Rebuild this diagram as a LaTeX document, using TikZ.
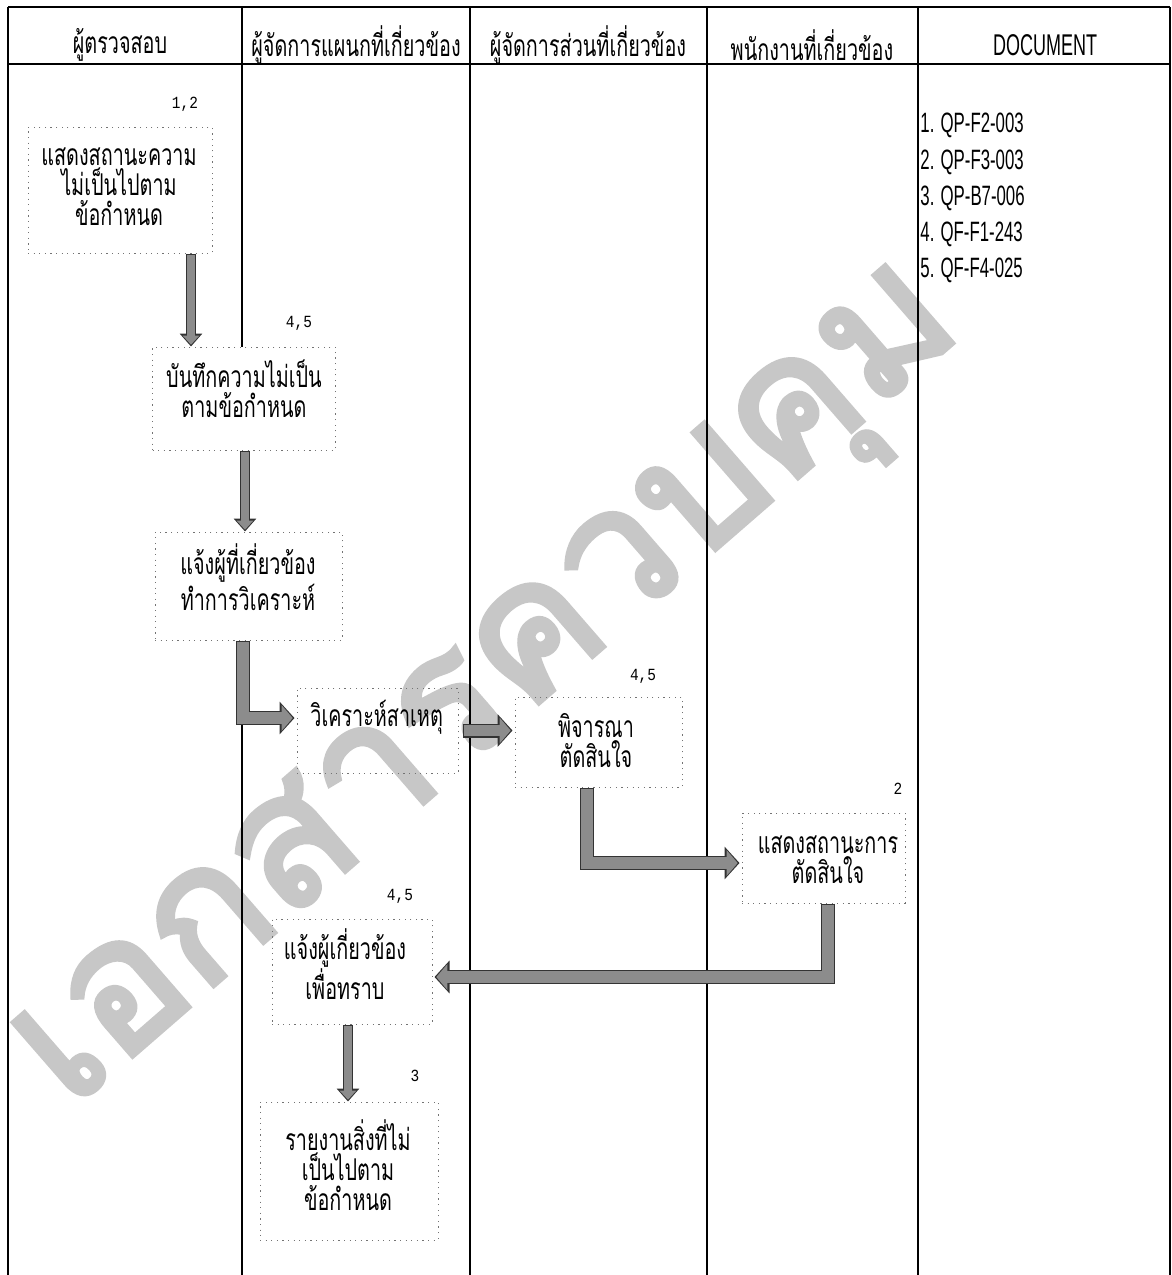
\documentclass[tikz,border=0pt]{standalone}
\usepackage{fontspec}
\usetikzlibrary{arrows.meta,calc}
\newfontfamily\thaif[Script=Thai,FakeStretch=0.66]{Loma}
\newfontfamily\thaiwm[Script=Thai,FakeBold=3]{Loma}
\newfontfamily\docf[FakeStretch=0.6]{Liberation Sans}
\newfontfamily\numf[FakeStretch=0.85]{Liberation Mono}
\begin{document}
\begin{tikzpicture}[x=0.5pt,y=-0.5pt,
  box/.style 2 args={draw=black!55, dash pattern=on 0.6pt off 2.2pt, line width=0.5pt,
    minimum width=#1*0.5pt, minimum height=#2*0.5pt, inner sep=0pt},
  txt/.style={font=\thaif\fontsize{15}{15}\selectfont, align=center, inner sep=0pt},
  hdr/.style={font=\thaif\fontsize{15}{15}\selectfont, inner sep=0pt},
  lbl/.style={font=\numf\fontsize{8.5}{9}\selectfont, inner sep=0pt},
  docitem/.style={font=\docf\fontsize{14}{15}\selectfont, anchor=west, inner sep=0pt},
  colline/.style={draw=black, line width=0.7pt},
  varrow/.style={draw=black!45, line width=3.8pt, shorten >=0.9pt, shorten <=0.6pt,
    -{Triangle[length=4.6pt,width=8.2pt]},
    preaction={draw=black!80, line width=5.2pt, shorten >=0pt, shorten <=0pt,
      -{Triangle[length=6.5pt,width=11pt]}}},
  harrow/.style={draw=black!45, line width=5.6pt, shorten >=0.9pt, shorten <=0.6pt,
    -{Triangle[length=5.5pt,width=12.5pt]},
    preaction={draw=black!80, line width=7pt, shorten >=0pt, shorten <=0pt,
      -{Triangle[length=7.5pt,width=16pt]}}}
]
\useasboundingbox (0,0) rectangle (1172,1275);
\fill[white] (0,0) rectangle (1172,1275);

% watermark (bottom layer)
\node[rotate=41, text=black!22, inner sep=0pt,
  font=\thaiwm\fontsize{92}{96}\selectfont] (wm) at (498,698) {เอกสารควบคุม};

% boxes
\node[box={184}{126}] (A) at (120,190) {};
\node[box={183}{103}] (B) at (244,398.5) {};
\node[box={187}{108}] (C) at (248.5,586) {};
\node[box={161}{85}] (D) at (377.5,730.5) {};
\node[box={167}{90}] (E) at (598.5,742) {};
\node[box={163}{90}] (F) at (823.5,858) {};
\node[box={160}{105}] (G) at (352,971.5) {};
\node[box={178}{138}] (H) at (349,1171) {};

% table frame
\draw[line width=1.2pt] (8,7) -- (1170,7);
\draw[colline] (8,64) -- (1170,64);
\foreach \xx in {8,470,707,918,1170}
  \draw[colline] (\xx,7) -- (\xx,1275);
\draw[colline] (242,7) -- (242,0 |- B.north);
\draw[colline] (242,0 |- C.south) -- (242,1275);

% headers
\node[hdr] (h1) at (120,45) {ผู้ตรวจสอบ};
\node[hdr] (h2) at (356,45) {ผู้จัดการแผนกที่เกี่ยวข้อง};
\node[hdr] (h3) at (588,45) {ผู้จัดการส่วนที่เกี่ยวข้อง};
\node[hdr] (h4) at (812,45) {พนักงานที่เกี่ยวข้อง};
\node[font=\docf\fontsize{15}{15}\selectfont, inner sep=0pt] (h5) at (1045,45) {DOCUMENT};

% documents
\node[docitem] (doc1) at (920,125) {1. QP-F2-003};
\node[docitem] (doc2) at (920,162) {2. QP-F3-003};
\node[docitem] (doc3) at (920,198) {3. QP-B7-006};
\node[docitem] (doc4) at (920,234) {4. QF-F1-243};
\node[docitem] (doc5) at (920,270) {5. QF-F4-025};

% box texts
\node[txt] (At) at (119,187) {แสดงสถานะความ\\ไม่เป็นไปตาม\\ข้อกำหนด};
\node[txt] (Bt) at (244,389) {บันทึกความไม่เป็น\\ตามข้อกำหนด};
\node[txt] (Ct) at (248,577) {แจ้งผู้ที่เกี่ยวข้อง\\ทำการวิเคราะห์};
\node[txt, anchor=west] (Dt) at (310,717) {วิเคราะห์สาเหตุ};
\node[txt] (Et) at (596,741) {พิจารณา\\ตัดสินใจ};
\node[txt] (Ft) at (828,860) {แสดงสถานะการ\\ตัดสินใจ};
\node[txt] (Gt) at (345,964) {แจ้งผู้เกี่ยวข้อง\\เพื่อทราบ};
\node[txt] (Ht) at (348,1165) {รายงานสิ่งที่ไม่\\เป็นไปตาม\\ข้อกำหนด};

% reference labels
\node[lbl] (lA) at (185,104) {1,2};
\node[lbl] (lB) at (299,323) {4,5};
\node[lbl] (lE) at (643,676) {4,5};
\node[lbl] (lF) at (898,789) {2};
\node[lbl] (lG) at (400,896) {4,5};
\node[lbl] (lH) at (415,1076) {3};

% connectors
\coordinate (a1) at ([xshift=35.5pt]A.south);
\draw[varrow] (a1) -- (a1 |- B.north);

\coordinate (b1) at ([xshift=0.5pt]B.south);
\draw[varrow] (b1) -- (b1 |- C.north);

\coordinate (c1) at ([xshift=-2.75pt]C.south);
\coordinate (d0) at ([xshift=-1pt,yshift=6.25pt]D.west);
\draw[harrow] (c1) |- (d0);

\coordinate (d1) at ([xshift=2pt]D.east);
\coordinate (e0) at ([xshift=-1pt]E.west);
\draw[harrow] (d1) -- (d1 -| e0);

\coordinate (e1) at ([xshift=-5.75pt]E.south);
\coordinate (f0) at ([xshift=-1pt,yshift=-2.5pt]F.west);
\draw[harrow] (e1) |- (f0);

\coordinate (f1) at ([xshift=2.25pt]F.south);
\coordinate (g0) at ([xshift=1pt,yshift=-2.75pt]G.east);
\draw[harrow] (f1) |- (g0);

\coordinate (g1) at ([xshift=-2pt]G.south);
\draw[varrow] (g1) -- (g1 |- H.north);
\end{tikzpicture}
\end{document}
